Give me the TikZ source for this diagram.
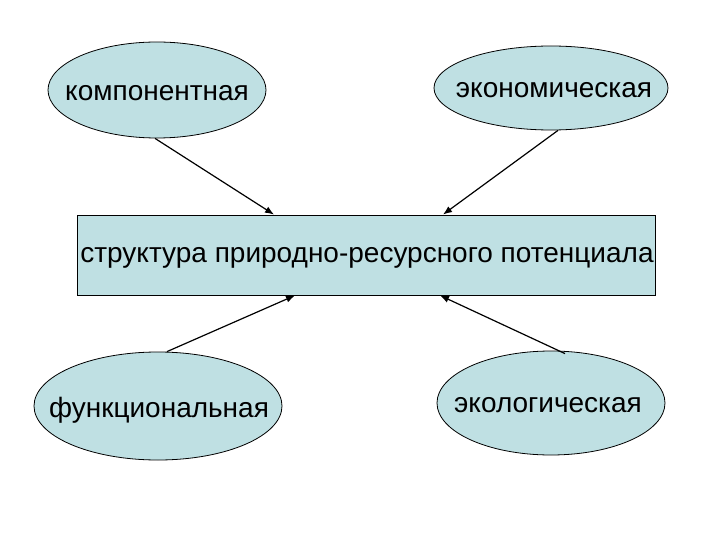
\documentclass[tikz,border=0pt]{standalone}
\usepackage{fontspec}
\setmainfont{Liberation Sans}
\usetikzlibrary{shapes.geometric,arrows.meta}
\definecolor{boxfill}{RGB}{191,224,227}
\begin{document}
\begin{tikzpicture}[x=1pt,y=-1pt,
  oval/.style={ellipse,draw=black,line width=0.8pt,fill=boxfill,inner sep=0pt},
  lbl/.style={inner sep=0pt,font=\fontsize{28}{32}\selectfont},
  mainbox/.style={rectangle,draw=black,line width=0.9pt,fill=boxfill,inner sep=0pt},
  arr/.style={draw=black,line width=1.2pt,-{Latex[length=9pt,width=7pt]}}]
\useasboundingbox (0,0) rectangle (720,540);
\node[oval,minimum width=218pt,minimum height=96pt] (k) at (157,90) {};
\node[lbl] (kt) at (157,93) {компонентная};
\node[oval,minimum width=234pt,minimum height=84pt] (e) at (551,88) {};
\node[lbl] (et) at (554,90) {экономическая};
\node[mainbox,minimum width=578pt,minimum height=80pt] (r) at (366,255) {};
\node[lbl] (rt) at (367,258) {структура природно-ресурсного потенциала};
\node[oval,minimum width=248pt,minimum height=108pt] (f) at (158,406) {};
\node[lbl] (ft) at (159,410) {функциональная};
\node[oval,minimum width=228pt,minimum height=104pt] (g) at (551,403) {};
\node[lbl] (gt) at (548,405) {экологическая};
\draw[arr] ([xshift=-2pt]k.south) -- ([xshift=-92pt]r.north);
\draw[arr] ([xshift=7pt]e.south) -- ([xshift=77pt]r.north);
\draw[arr] ([xshift=9pt]f.north) -- ([xshift=-71pt]r.south);
\draw[arr] ([xshift=14pt,yshift=-3pt]g.north) -- ([xshift=74pt]r.south);
\end{tikzpicture}
\end{document}
